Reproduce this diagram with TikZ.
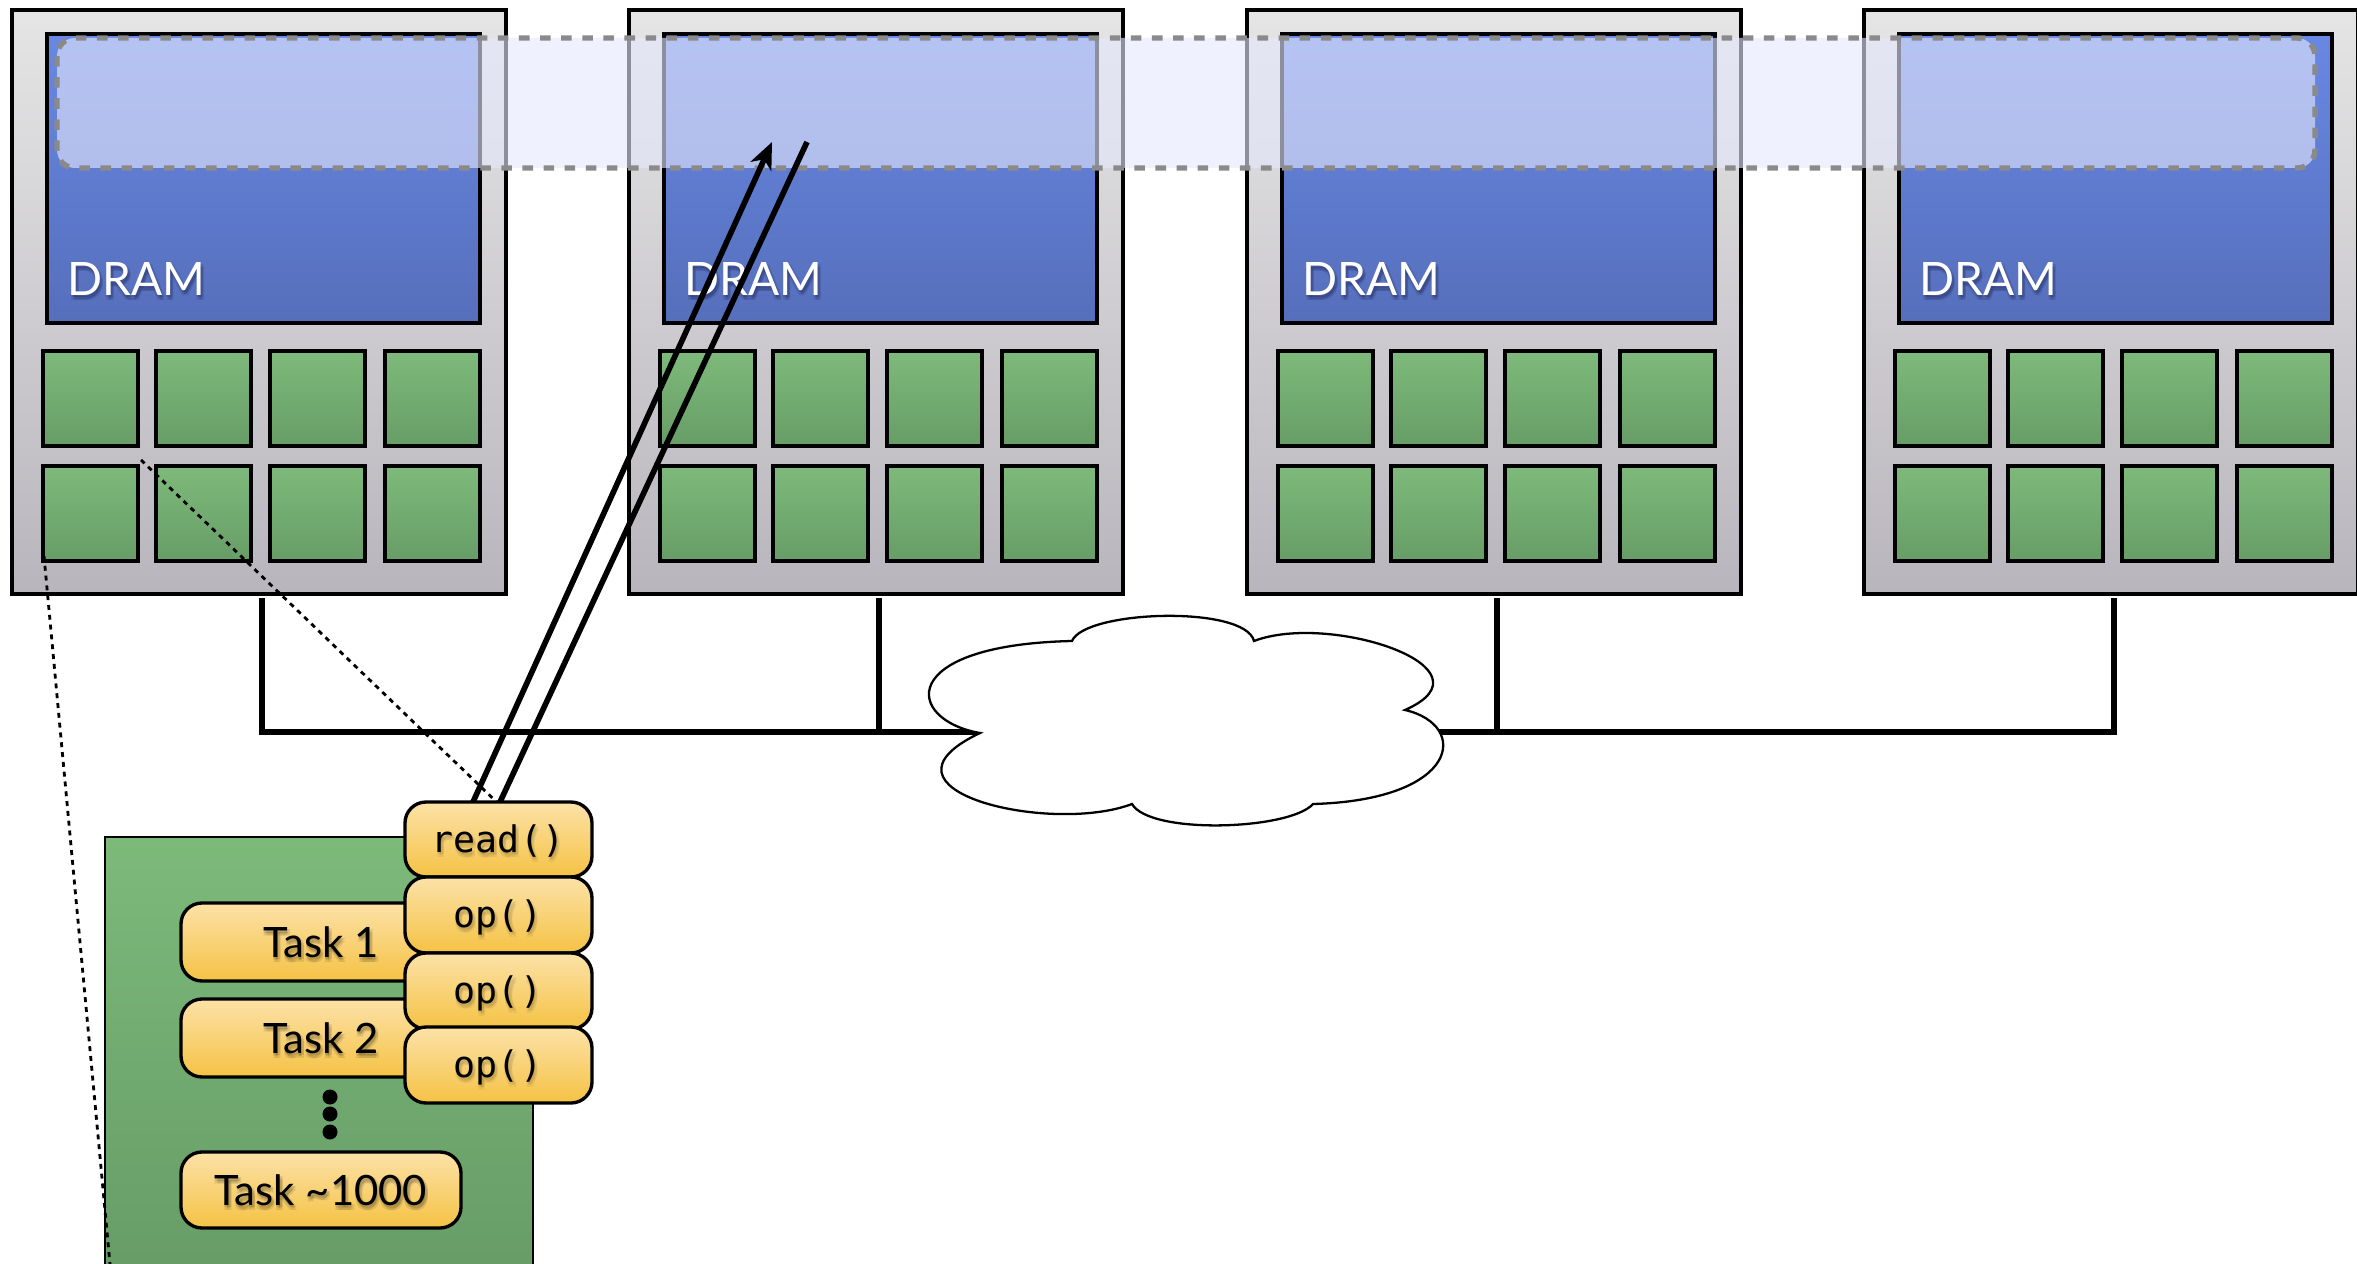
\documentclass[tikz,border=0pt]{standalone}
\usepackage{fontspec}
\newfontfamily\labelfont{Lato}
\newfontfamily\codefont{DejaVu Sans Mono}
\usetikzlibrary{arrows.meta}

\definecolor{boxtop}{RGB}{229,229,229}
\definecolor{boxbot}{RGB}{185,181,189}
\definecolor{dramtop}{RGB}{104,136,228}
\definecolor{drambot}{RGB}{86,111,187}
\definecolor{coretop}{RGB}{126,186,123}
\definecolor{corebot}{RGB}{103,157,102}
\definecolor{hilite}{RGB}{229,232,253}
\definecolor{dashgray}{RGB}{138,138,138}
\definecolor{tasktop}{RGB}{252,226,168}
\definecolor{taskbot}{RGB}{245,194,68}
\definecolor{frametop}{RGB}{124,186,122}
\definecolor{framebot}{RGB}{102,154,102}
\definecolor{dramshadow}{RGB}{20,25,70}

\tikzset{
  hostbox/.style={draw=black, line width=0.95pt, top color=boxtop, bottom color=boxbot},
  drambox/.style={draw=black, line width=0.95pt, top color=dramtop, bottom color=drambot},
  corebox/.style={draw=black, line width=0.95pt, top color=coretop, bottom color=corebot},
  dramlabel/.style={inner sep=0pt, anchor=base west, text=white,
    font=\labelfont\fontsize{13.1}{15}\selectfont},
  tasklabel/.style={inner sep=0pt, anchor=base, text=black,
    font=\labelfont\fontsize{11.9}{14}\selectfont},
  codelabel/.style={inner sep=0pt, anchor=base, text=black,
    font=\codefont\fontsize{10.4}{12}\selectfont},
  pill/.style={draw=black, line width=0.95pt, rounded corners=0.21cm,
    top color=tasktop, bottom color=taskbot},
  busline/.style={line width=1.55pt},
  zoomline/.style={line width=0.8pt, dash pattern=on 1.4pt off 1.4pt},
  readline/.style={line width=1.6pt},
  region/.style={fill=hilite, fill opacity=0.62, draw=dashgray, line width=1.55pt,
    dash pattern=on 3pt off 3pt, rounded corners=0.18cm},
  cloudshape/.style={fill=white, draw=black, line width=0.65pt},
  taskframe/.style={draw=black, line width=0.8pt, top color=frametop, bottom color=framebot},
}

% text with a soft drop shadow: name, style, position, shadow colour, shadow opacity, text
\newcommand{\softlabel}[6]{%
  \foreach \sx/\sy in {0/-2,3/-2,0/-5,3/-5,1.5/-3.5}{%
    \node[#2, text=#4, opacity=#5, xshift=\sx*0.01cm, yshift=\sy*0.01cm] at (#3) {#6};
  }%
  \node[#2] (#1) at (#3) {#6};%
}

\begin{document}
\begin{tikzpicture}[x=0.01cm, y=0.01cm]
\useasboundingbox (0,-1264) rectangle (2357,0);
\clip (0,-1264) rectangle (2357,0);

% four compute hosts: DRAM on top, eight cores below
\foreach \i/\hx in {1/12,2/629,3/1247,4/1864}{
  \begin{scope}[xshift=\hx*0.01cm]
    \path[hostbox] (0,-10) rectangle (494,-594);
    \path[drambox] (35,-34) rectangle (468,-323);
    \softlabel{dram\i}{dramlabel}{55,-296}{dramshadow}{0.13}{DRAM}
    \foreach \cx in {31,144,258,373}{
      \foreach \cy in {351,466}{
        \path[corebox] (\cx,-\cy) rectangle ++(95,-95);
      }
    }
    \coordinate (tap\i) at (250,-598);
    \coordinate (bus\i) at (250,-732);
  \end{scope}
}

% shared address space spanning all DRAMs
\path[region] (57,-38) rectangle (2315,-168);

% network
\draw[busline] (tap1) -- (bus1) -- (bus4) -- (tap4);
\draw[busline] (tap2) -- (bus2);
\draw[busline] (tap3) -- (bus3);

\path[cloudshape] (980,-733)
  .. controls (905,-720) and (895,-645) .. (1072,-641)
  .. controls (1085,-610) and (1245,-605) .. (1254,-641)
  .. controls (1330,-612) and (1500,-668) .. (1405,-710)
  .. controls (1470,-725) and (1460,-800) .. (1313,-804)
  .. controls (1290,-830) and (1150,-835) .. (1132,-804)
  .. controls (1050,-835) and (860,-790) .. (980,-733) -- cycle;

% one core, enlarged
\path[taskframe] (105,-837) rectangle (533,-1300);
\coordinate (coreSW) at (44,-556);
\coordinate (coreNE) at (141,-460);
\coordinate (frameSW) at (110,-1264);
\coordinate (frameNE) at (533,-837);
\draw[zoomline] (coreSW) -- (frameSW);
\draw[zoomline] (coreNE) -- (frameNE);

\path[pill] (181,-903) rectangle (461,-981);
\path[pill] (181,-999) rectangle (461,-1077);
\path[pill] (181,-1152) rectangle (461,-1228);
\softlabel{task1}{tasklabel}{321,-957}{black}{0.09}{Task 1}
\softlabel{task2}{tasklabel}{321,-1053}{black}{0.09}{Task 2}
\softlabel{taskN}{tasklabel}{321,-1205}{black}{0.09}{Task \char`\~1000}
\fill (330,-1097) circle (7.5);
\fill (330,-1114) circle (7.5);
\fill (330,-1132) circle (7.5);

% remote read into another host's DRAM
\coordinate (rdA) at (473,-802);
\coordinate (rdB) at (500,-802);
\coordinate (hitA) at (772,-142);
\coordinate (hitB) at (807,-142);
\draw[readline, -{Stealth[length=7.6pt, width=6.4pt, inset=2.2pt]}] (rdA) -- (hitA);
\draw[readline] (rdB) -- (hitB);

% operation queue
\path[pill] (405,-802) rectangle (592,-877);
\path[pill] (405,-877) rectangle (592,-953);
\path[pill] (405,-953) rectangle (592,-1029);
\path[pill] (405,-1027) rectangle (592,-1103);
\softlabel{opread}{codelabel}{498,-852}{black}{0.06}{read()}
\softlabel{opa}{codelabel}{498,-927}{black}{0.06}{op()}
\softlabel{opb}{codelabel}{498,-1003}{black}{0.06}{op()}
\softlabel{opc}{codelabel}{498,-1077}{black}{0.06}{op()}
\end{tikzpicture}
\end{document}
